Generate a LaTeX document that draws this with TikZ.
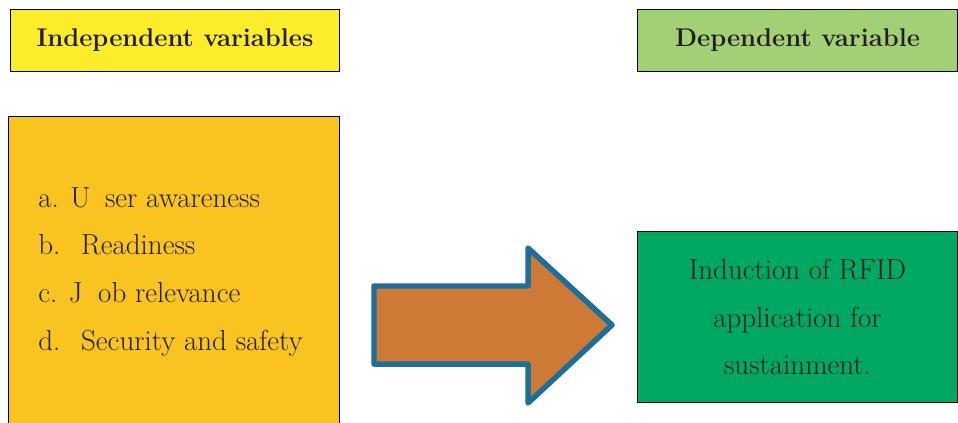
\documentclass[tikz,border=0pt]{standalone}
\usepackage{tikz}
\usepackage{xcolor}
\definecolor{headyellow}{HTML}{FCEC2A}
\definecolor{headgreen}{HTML}{A3CF75}
\definecolor{listorange}{HTML}{F9C41F}
\definecolor{arrowfill}{HTML}{CC7A35}
\definecolor{arrowline}{HTML}{1D6E98}
\definecolor{outgreen}{HTML}{00A862}
\definecolor{ink}{HTML}{231F20}

\begin{document}
\begin{tikzpicture}[x=0.025cm, y=-0.025cm,
        box/.style={draw=black, rectangle, line width=0.7pt, inner sep=0pt, text=ink},
        head/.style={box, minimum height=1.55cm, font={\fontsize{18.2}{30}\selectfont\bfseries}},
        item/.style={anchor=base west, inner sep=0pt, text=ink, font={\fontsize{20.6}{34}\selectfont}}]
        \useasboundingbox (0,0) rectangle (958,422);

        \node (indep) at (175.0, 40.0) [head, fill=headyellow, minimum width=8.2cm] {Independent variables};
        \node (dep) at (797.5, 40.0) [head, fill=headgreen, minimum width=7.99cm] {Dependent variable};

        \node (factors) at (174.0, 273.5) [box, fill=listorange, minimum width=8.25cm, minimum height=7.825cm] {};
        \node (itemA) at (38.0, 207.0) [item] {a. U\hspace{0.5em}ser awareness};
        \node (itemB) at (38.0, 254.0) [item] {b.\hspace{0.72em}Readiness};
        \node (itemC) at (38.0, 302.0) [item] {c. J\hspace{0.54em}ob relevance};
        \node (itemD) at (38.0, 350.0) [item] {d.\hspace{0.72em}Security and safety};

        \node (outcome) at (797.5, 317.0) [box, fill=outgreen, minimum width=7.99cm, minimum height=4.25cm, align=center, font={\fontsize{20.6}{34}\selectfont}] {Induction of RFID\\application for\\sustainment.};

        \draw[draw=arrowline, fill=arrowfill, line width=3.9pt, line join=round]
            (374,286) -- (528,286) -- (528,248) -- (612,325) -- (528,403) -- (528,364) -- (374,364) -- cycle;
    \end{tikzpicture}
\end{document}
